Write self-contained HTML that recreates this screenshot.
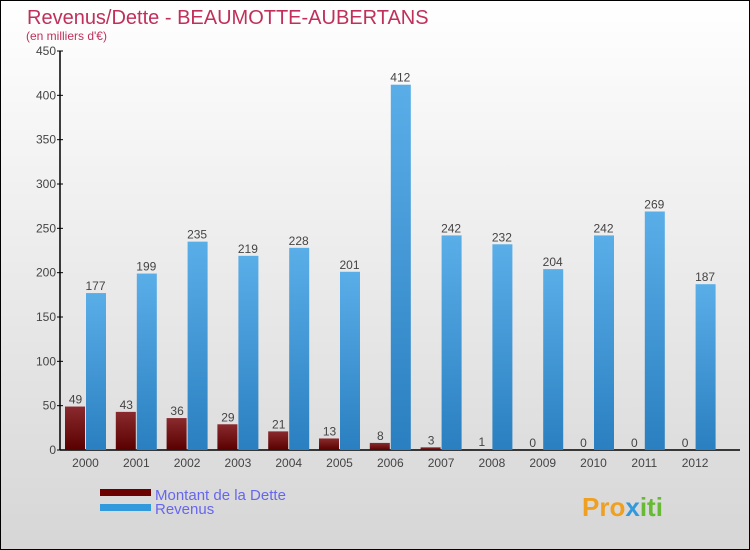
<!DOCTYPE html>
<html><head><meta charset="utf-8"><style>
html,body{margin:0;padding:0}
body{width:750px;height:550px;overflow:hidden;font-family:"Liberation Sans",sans-serif}
svg{display:block}
</style></head><body>
<svg id="chart" width="750" height="550" xmlns="http://www.w3.org/2000/svg">
<defs>
<linearGradient id="bg" x1="0" y1="0" x2="0" y2="1"><stop offset="0" stop-color="#ffffff"/><stop offset="1" stop-color="#d6d6d6"/></linearGradient>
<linearGradient id="gd" x1="0" y1="0" x2="0" y2="1"><stop offset="0" stop-color="#8a2a2e"/><stop offset="1" stop-color="#5a0000"/></linearGradient>
<linearGradient id="gr" x1="0" y1="0" x2="0" y2="1"><stop offset="0" stop-color="#5aaee8"/><stop offset="1" stop-color="#2a7fc0"/></linearGradient>
</defs>
<rect x="0.5" y="0.5" width="749" height="549" fill="url(#bg)" stroke="#000"/>
<text x="27" y="24" font-size="20" fill="#c0305a">Revenus/Dette - BEAUMOTTE-AUBERTANS</text>
<text x="26" y="40" font-size="12" fill="#c0305a">(en milliers d'€)</text>
<g id="axes"></g>
<g id="bars"></g>
<g>
<rect x="100" y="489" width="51" height="7" fill="#6a0000"/>
<text x="155" y="500" font-size="15" fill="#6666ee">Montant de la Dette</text>
<rect x="100" y="504" width="51" height="7" fill="#3399dd"/>
<text x="155" y="514" font-size="15" fill="#6666ee">Revenus</text>
</g>
<text x="582" y="516" font-size="26" font-weight="bold" fill="#f0a020">Pro<tspan fill="#3399dd">x</tspan><tspan fill="#66bb33">iti</tspan></text>
</svg>
<script>
const years=["2000","2001","2002","2003","2004","2005","2006","2007","2008","2009","2010","2011","2012"];
const debt=[49,43,36,29,21,13,8,3,1,0,0,0,0];
const revenue=[177,199,235,219,228,201,412,242,232,204,242,269,187];
const yTicks=[0,50,100,150,200,250,300,350,400,450];
const NS="http://www.w3.org/2000/svg";
const y0=450,yTop=51,yMax=450,x0=60,xc0=85.5,step=50.8,bw=20;
function ys(v){return y0-(v/yMax)*(y0-yTop);}
function xs(i){return xc0+i*step;}
function mk(tag,attrs,parent){const e=document.createElementNS(NS,tag);for(const k in attrs)e.setAttribute(k,attrs[k]);parent.appendChild(e);return e;}
const ax=document.getElementById('axes'),bars=document.getElementById('bars');
const yl=mk('line',{x1:x0,y1:yTop,x2:x0,y2:y0,stroke:'#000','stroke-width':1.5},ax);


const xl=mk('line',{x1:x0,y1:y0,x2:740,y2:y0,stroke:'#000','stroke-width':1.5},ax);


yTicks.forEach(t=>{
 const tk=mk('line',{x1:x0-3,y1:ys(t),x2:x0+3,y2:ys(t),stroke:'#000'},ax);
 
 
 const tx=mk('text',{x:x0-4,y:ys(t)+4,'font-size':12,fill:'#444','text-anchor':'end'},ax);
 tx.textContent=t;
 
 
});
years.forEach((yr,i)=>{
 const c=xs(i);
 const tx=mk('text',{x:c,y:467,'font-size':12,fill:'#444','text-anchor':'middle'},ax);
 tx.textContent=yr;
 
 
 const d=debt[i],r=revenue[i];
 const bd=mk('rect',{x:c-bw-0.5,y:ys(d),width:bw,height:y0-ys(d),fill:'url(#gd)'},bars);
 
 
 const br=mk('rect',{x:c+0.5,y:ys(r),width:bw,height:y0-ys(r),fill:'url(#gr)'},bars);
 
 
 const ld=mk('text',{x:c-bw/2,y:ys(d)-3,'font-size':12,fill:'#444','text-anchor':'middle'},bars);
 ld.textContent=d;
 
 
 const lr=mk('text',{x:c+bw/2,y:ys(r)-3,'font-size':12,fill:'#444','text-anchor':'middle'},bars);
 lr.textContent=r;
 
 
});
</script>
</body></html>
